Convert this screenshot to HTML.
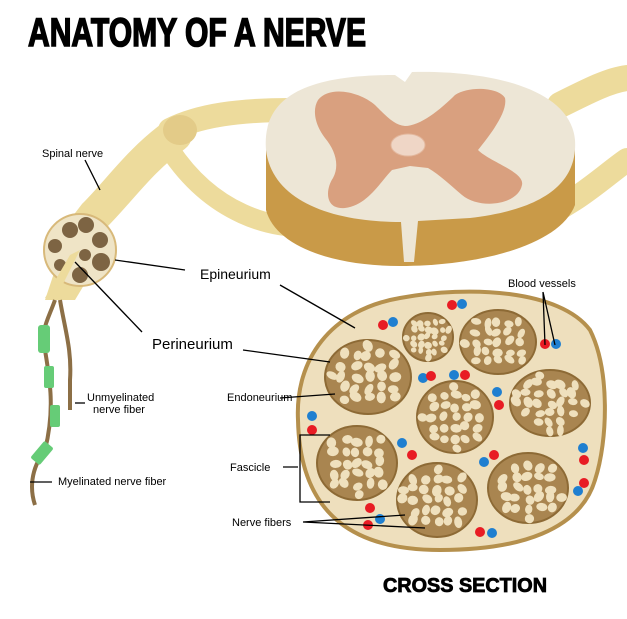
<!DOCTYPE html>
<html><head><meta charset="utf-8"><style>
html,body{margin:0;padding:0;background:#fff;}
svg{display:block;font-family:"Liberation Sans",Arial,sans-serif;}
</style></head><body>
<svg id="s" width="627" height="619" viewBox="0 0 627 619" xmlns="http://www.w3.org/2000/svg">
<text x="28" y="46" font-size="40" font-weight="bold" textLength="338" lengthAdjust="spacingAndGlyphs" fill="#000" stroke="#000" stroke-width="1.6" font-family="Liberation Sans Narrow, Liberation Sans, sans-serif">ANATOMY OF A NERVE</text>

<!-- nerve roots -->
<g fill="none" stroke="#eddb9c" stroke-linecap="round">
<path d="M330 225 C270 235 210 210 170 150" stroke-width="20"/>
<path d="M290 110 C240 110 200 115 170 130" stroke-width="24"/>
<path d="M175 135 C140 160 120 190 95 215 L72 245" stroke-width="34"/>
<path d="M560 105 C590 90 610 80 627 78" stroke-width="26"/>
<path d="M530 222 C575 205 605 175 627 160" stroke-width="24"/>
</g>
<ellipse cx="180" cy="130" rx="17" ry="15" fill="#e3cb88"/>
<path d="M45 300 L55 270 L90 275 L75 300 Z" fill="#eddb9c"/>

<!-- spinal cord -->
<path d="M266 140 L266 210 C275 245 330 266 400 266 C480 266 560 245 575 205 L575 140 Z" fill="#c99a48"/>
<path d="M266 150 C262 100 300 75 395 75 L405 82 L412 72 C480 70 570 85 575 140 C578 185 540 210 470 218 L418 221 L414 262 L404 262 L401 222 C330 222 272 200 266 150 Z" fill="#ede6d6"/>
<path d="M318 100 C330 85 360 92 375 105 C388 118 395 125 405 126 C420 126 440 110 455 95 C470 85 500 88 505 98 C508 112 490 135 478 150 C490 162 525 172 522 185 C518 205 480 210 462 195 C450 185 440 175 428 168 L410 166 L392 170 C380 182 368 205 345 208 C325 210 325 190 333 178 C340 165 335 150 325 138 C315 125 312 110 318 100 Z" fill="#d9a07f"/>
<ellipse cx="408" cy="145" rx="17" ry="11" fill="#efd6c6" stroke="#e3b89e"/>

<!-- small cross section -->
<circle cx="80" cy="250" r="36" fill="#efe4c6" stroke="#d8b97a" stroke-width="2"/>
<g fill="#7d6443">
<circle cx="70" cy="230" r="8"/><circle cx="86" cy="225" r="8"/><circle cx="100" cy="240" r="8"/>
<circle cx="55" cy="246" r="7"/><circle cx="101" cy="262" r="9"/><circle cx="80" cy="275" r="8"/>
<circle cx="60" cy="265" r="6"/><circle cx="85" cy="255" r="6"/></g>
<path d="M70 255 L80 250 L55 300 L45 298 Z" fill="#eddb9c"/>

<!-- fibers -->
<path d="M55 300 C48 320 40 330 45 350 C50 380 55 410 45 450 C30 470 30 490 35 505" fill="none" stroke="#8c6f46" stroke-width="4"/>
<path d="M60 300 C65 330 72 350 70 380 L70 410" fill="none" stroke="#8c6f46" stroke-width="4"/>
<g fill="#66cc77"><rect x="38" y="325" width="12" height="28" rx="3"/><rect x="44" y="366" width="10" height="22" rx="2"/><rect x="50" y="405" width="10" height="22" rx="2"/><rect x="36" y="442" width="12" height="22" rx="2" transform="rotate(40 42 453)"/></g>

<!-- big cross section -->
<path d="M298 420 C295 360 330 310 400 298 C470 285 560 290 590 330 C610 370 608 440 595 480 C580 530 520 550 440 550 C360 550 300 520 298 420 Z" fill="#eedfbd" stroke="#b5904d" stroke-width="4"/>
<g id="fas"></g>

<!-- leader lines -->
<g stroke="#000" stroke-width="1.3" fill="none">
<path d="M85 160 L100 190"/><path d="M115 260 L185 270"/><path d="M280 285 L355 328"/>
<path d="M75 262 L142 332"/><path d="M243 350 L330 362"/><path d="M280 398 L335 394"/>
<path d="M75 403 L85 403"/><path d="M30 482 L52 482"/>
<path d="M283 467 L298 467 M300 435 L330 435 L300 435 L300 502 L330 502"/>
<path d="M303 522 L405 515 M303 522 L425 528"/><path d="M543 292 L545 345 M543 292 L555 345"/>
</g>

<g font-size="11" fill="#000">
<text x="42" y="157">Spinal nerve</text>
<text x="87" y="401">Unmyelinated</text><text x="93" y="413">nerve fiber</text>
<text x="58" y="485">Myelinated nerve fiber</text>
<text x="227" y="401">Endoneurium</text>
<text x="230" y="471">Fascicle</text>
<text x="232" y="526">Nerve fibers</text>
<text x="508" y="287">Blood vessels</text>
</g>
<text x="200" y="279" font-size="14">Epineurium</text>
<text x="152" y="349" font-size="15">Perineurium</text>
<text x="383" y="592" font-size="20" font-weight="bold" textLength="164" lengthAdjust="spacingAndGlyphs" stroke="#000" stroke-width="0.8" font-family="Liberation Sans Narrow, Liberation Sans, sans-serif">CROSS SECTION</text>
</svg>
<script>
var g=document.getElementById('fas'),ns='http://www.w3.org/2000/svg';
function el(t,a){var e=document.createElementNS(ns,t);for(var k in a)e.setAttribute(k,a[k]);g.appendChild(e);return e;}
var F=[[428,337,25,24],[498,342,38,32],[368,377,43,37],[455,417,38,36],[550,403,40,33],[357,463,40,37],[437,500,40,37],[528,488,40,35]];
var seed=3;function r(){seed=(seed*9301+49297)%233280;return seed/233280;}
F.forEach(function(f){el('ellipse',{cx:f[0],cy:f[1],rx:f[2],ry:f[3],fill:'#a98550',stroke:'#8d6a35','stroke-width':2});
var n=Math.round(f[2]*f[3]/45);
for(var j=-3;j<=3;j++)for(var i=-3;i<=3;i++){var x=i/3.4+(r()-0.5)*0.12,y=j/3.4+(r()-0.5)*0.12;if(x*x+y*y>0.78)continue;
el('ellipse',{cx:f[0]+x*f[2],cy:f[1]+y*f[3],rx:f[2]/9+r()*1.5,ry:f[3]/10+r()*1.2,fill:'#efe0bd',transform:'rotate('+(r()*180)+' '+(f[0]+x*f[2])+' '+(f[1]+y*f[3])+')'});}});
var B=[[383,325,'r'],[393,322,'b'],[452,305,'r'],[462,304,'b'],[545,344,'r'],[556,344,'b'],[423,378,'b'],[431,376,'r'],[454,375,'b'],[465,375,'r'],[497,392,'b'],[499,405,'r'],[312,416,'b'],[312,430,'r'],[402,443,'b'],[412,455,'r'],[484,462,'b'],[494,455,'r'],[583,448,'b'],[584,460,'r'],[584,483,'r'],[578,491,'b'],[370,508,'r'],[380,519,'b'],[368,525,'r'],[480,532,'r'],[492,533,'b']];
B.forEach(function(b){el('circle',{cx:b[0],cy:b[1],r:5,fill:b[2]=='r'?'#e81c24':'#1f7fd0'});});
</script>
</body></html>
